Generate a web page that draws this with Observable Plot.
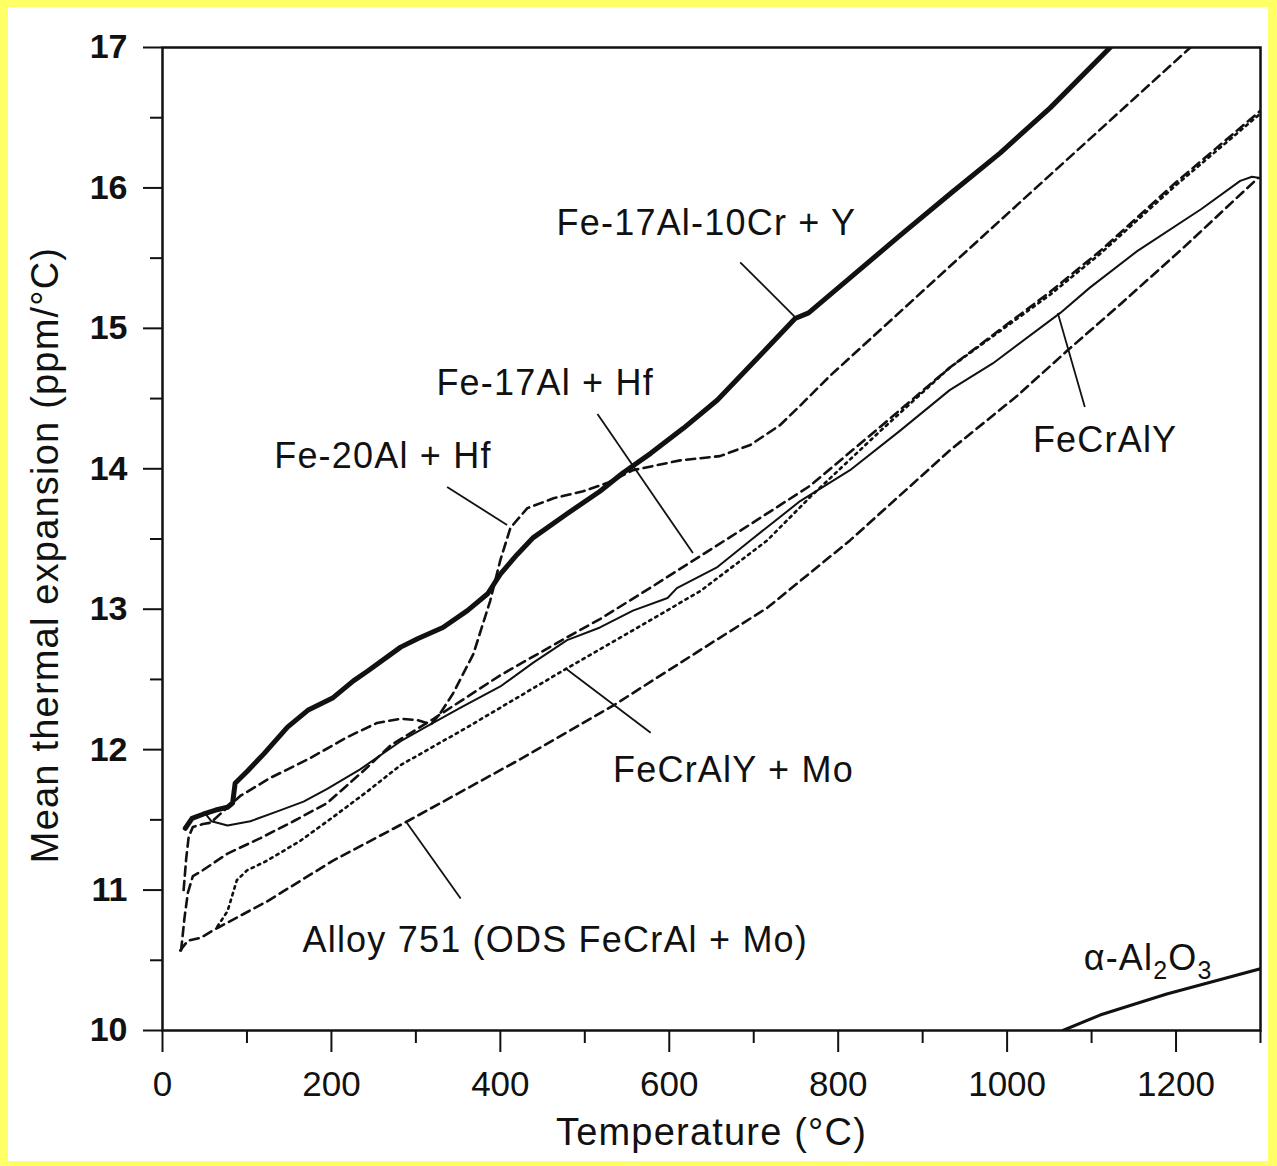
<!DOCTYPE html>
<html><head><meta charset="utf-8">
<script src="https://cdn.jsdelivr.net/npm/d3@7"></script>
<script src="https://cdn.jsdelivr.net/npm/@observablehq/plot@0.6"></script>
<style>
html,body{margin:0;padding:0;background:#ffff66;}
#wrap{position:relative;width:1277px;height:1166px;overflow:hidden;}
#paper{position:absolute;left:8px;top:7px;width:1260px;height:1154px;background:#fff;}
#chart{position:absolute;left:0;top:0;}
</style></head>
<body><div id="wrap"><div id="paper"></div><div id="chart"></div></div>
<script>
// ---- tick values ----
const xMajorTicks = [0, 200, 400, 600, 800, 1000, 1200];
const xMinorTicks = [100, 300, 500, 700, 900, 1100, 1300];
const yMajorTicks = [10, 11, 12, 13, 14, 15, 16, 17];
const yMinorTicks = [10.5, 11.5, 12.5, 13.5, 14.5, 15.5, 16.5];

// ---- series: [temperature °C, mean CTE ppm/°C] ----
const fe17Al10CrY = [[27,11.44],[35,11.51],[48,11.54],[63,11.57],[77,11.59],[83,11.62],[86,11.76],[101,11.85],[120,11.97],[148,12.16],[172,12.28],[202,12.37],[226,12.49],[243,12.56],[282,12.73],[302,12.79],[332,12.87],[361,12.99],[385,13.11],[400,13.25],[420,13.39],[439,13.51],[479,13.68],[518,13.84],[545,13.97],[578,14.11],[617,14.29],[657,14.49],[708,14.81],[749,15.07],[765,15.11],[814,15.36],[873,15.66],[933,15.96],[992,16.25],[1051,16.57],[1122,17.0]];
const fe20AlHf = [[25,11.0],[28,11.22],[31,11.38],[36,11.45],[48,11.47],[57,11.48],[92,11.67],[128,11.80],[175,11.94],[219,12.09],[254,12.19],[282,12.22],[302,12.21],[318,12.18],[329,12.26],[344,12.40],[368,12.68],[388,13.06],[400,13.35],[412,13.58],[432,13.72],[463,13.79],[498,13.84],[527,13.90],[557,13.99],[613,14.06],[660,14.09],[696,14.17],[731,14.31],[755,14.45],[790,14.66],[992,15.77],[1217,17.0]];
const fe17AlHf = [[22,10.57],[26,10.8],[30,10.98],[36,11.1],[45,11.13],[77,11.26],[116,11.37],[155,11.49],[195,11.62],[240,11.86],[270,12.03],[321,12.22],[400,12.53],[479,12.80],[518,12.93],[577,13.15],[637,13.38],[700,13.62],[767,13.88],[850,14.30],[932,14.72],[1051,15.26],[1110,15.55],[1200,16.04],[1300,16.55]];
const feCrAlY = [[50,11.55],[58,11.49],[77,11.46],[104,11.49],[136,11.56],[167,11.63],[195,11.72],[234,11.86],[282,12.06],[314,12.17],[353,12.30],[400,12.45],[439,12.62],[479,12.78],[518,12.87],[557,12.99],[598,13.08],[609,13.15],[657,13.30],[696,13.49],[755,13.77],[814,13.99],[873,14.27],[932,14.56],[983,14.75],[1063,15.11],[1098,15.29],[1154,15.55],[1230,15.85],[1276,16.05],[1290,16.08],[1300,16.07]];
const feCrAlYMo = [[65,10.74],[77,10.85],[88,11.07],[100,11.14],[124,11.21],[163,11.35],[202,11.52],[242,11.70],[282,11.89],[361,12.16],[479,12.58],[557,12.85],[637,13.13],[716,13.49],[767,13.80],[850,14.27],[932,14.72],[1051,15.24],[1110,15.53],[1200,16.02],[1300,16.53]];
const alloy751 = [[21,10.57],[30,10.64],[45,10.66],[65,10.73],[124,10.92],[202,11.21],[290,11.49],[420,11.92],[538,12.33],[637,12.71],[716,13.01],[814,13.49],[932,14.13],[1012,14.52],[1071,14.84],[1130,15.15],[1208,15.57],[1297,16.07]];
const alumina = [[1066,10.0],[1110,10.11],[1189,10.26],[1300,10.44]];

// ---- labels (text, T, V) and leader lines (T1,V1 -> T2,V2) ----
const labelTexts = ["Fe-17Al-10Cr + Y","Fe-17Al + Hf","Fe-20Al + Hf","FeCrAlY","FeCrAlY + Mo","Alloy 751 (ODS FeCrAl + Mo)","α-Al2O3"];
const labelT = [644, 453, 261, 1116, 676, 465, 1167];
const labelV = [15.75, 14.61, 14.09, 14.20, 11.85, 10.64, 10.51];
const leaderFrom = [[684,15.47],[515,14.39],[337,13.87],[1092,14.44],[578,12.12],[353,10.94]];
const leaderTo   = [[749,15.08],[628,13.40],[408,13.60],[1060,15.11],[477,12.58],[288,11.49]];

const toRows = (arr) => arr.map(([T, V]) => ({T, V}));
const labels = labelTexts.map((text, i) => ({text, T: labelT[i], V: labelV[i]}));
const leaders = leaderFrom.map((a, i) => ({x1: a[0], y1: a[1], x2: leaderTo[i][0], y2: leaderTo[i][1]}));

const ink = "#111";
const dash = "9,5.5";
const dot = "2.5,4.5";
const fmt = (d) => String(d);

const chart = Plot.plot({
  width: 1277, height: 1166,
  marginLeft: 162, marginRight: 17, marginTop: 47, marginBottom: 136,
  style: {background: "transparent", fontFamily: "'Liberation Sans', Arial, sans-serif", color: ink},
  x: {domain: [0, 1300]},
  y: {domain: [10, 17]},
  marks: [
    Plot.axisX(xMajorTicks, {tickSize: 22, tickPadding: 19, fontSize: 35, tickFormat: fmt, label: null, strokeWidth: 2}),
    Plot.axisX(xMinorTicks, {tickSize: 13, tickFormat: () => "", label: null, strokeWidth: 2}),
    Plot.axisY(yMajorTicks, {tickSize: 19, tickPadding: 16, fontSize: 34, fontWeight: "bold", tickFormat: fmt, label: null, strokeWidth: 2}),
    Plot.axisY(yMinorTicks, {tickSize: 12, tickFormat: () => "", label: null, strokeWidth: 2}),
    Plot.frame({stroke: ink, strokeWidth: 2.5}),
    Plot.line(toRows(alloy751), {x: "T", y: "V", stroke: ink, strokeWidth: 2.6, strokeDasharray: dash, clip: true}),
    Plot.line(toRows(feCrAlYMo), {x: "T", y: "V", stroke: ink, strokeWidth: 2.6, strokeDasharray: dot, clip: true}),
    Plot.line(toRows(feCrAlY), {x: "T", y: "V", stroke: ink, strokeWidth: 2, clip: true}),
    Plot.line(toRows(fe17AlHf), {x: "T", y: "V", stroke: ink, strokeWidth: 2.6, strokeDasharray: dash, clip: true}),
    Plot.line(toRows(fe20AlHf), {x: "T", y: "V", stroke: ink, strokeWidth: 2.6, strokeDasharray: dash, clip: true}),
    Plot.line(toRows(fe17Al10CrY), {x: "T", y: "V", stroke: ink, strokeWidth: 5, clip: true}),
    Plot.line(toRows(alumina), {x: "T", y: "V", stroke: ink, strokeWidth: 3, clip: true}),
    Plot.link(leaders, {x1: "x1", y1: "y1", x2: "x2", y2: "y2", stroke: ink, strokeWidth: 1.8}),
    Plot.text(labels, {x: "T", y: "V", text: "text", fontSize: 36, fill: ink, style: "letter-spacing:1.2px"}),
    Plot.text(["Temperature (°C)"], {frameAnchor: "bottom", lineAnchor: "middle", textAnchor: "middle", dy: 102, fontSize: 38, fill: ink}),
    Plot.text(["Mean thermal expansion (ppm/°C)"], {frameAnchor: "left", textAnchor: "middle", rotate: -90, dx: -117, dy: 16, fontSize: 38, fill: ink})
  ]
});
document.getElementById("chart").appendChild(chart);

// letter spacing for titles and annotations
d3.select(chart).selectAll("text").filter(function() {
  return this.closest("[aria-label^='text']") !== null;
}).style("letter-spacing", "1.2px");

// subscripts for α-Al2O3
d3.select(chart).selectAll("text").filter(function() { return this.textContent === "α-Al2O3"; })
  .each(function() {
    const t = d3.select(this);
    t.text(null);
    t.append("tspan").text("α-Al");
    t.append("tspan").attr("dy", 9).attr("font-size", 25).text("2");
    t.append("tspan").attr("dy", -9).text("O");
    t.append("tspan").attr("dy", 9).attr("font-size", 25).text("3");
  });
</script>
</body></html>
